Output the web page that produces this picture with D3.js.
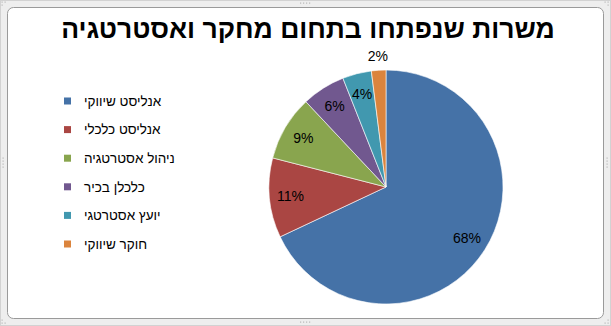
<!DOCTYPE html>
<html lang="he">
<head>
<meta charset="utf-8">
<script src="https://cdn.jsdelivr.net/npm/d3@7"></script>
<style>
  html, body { margin: 0; padding: 0; background: #fff; }
  svg { display: block; }
  text { font-family: "Liberation Sans", Arial, "DejaVu Sans", sans-serif; }
</style>
</head>
<body>
<svg id="chart" width="611" height="326"></svg>
<script>
// Chart data
const title = "משרות שנפתחו בתחום מחקר ואסטרטגיה";
const categories = ["אנליסט שיווקי", "אנליסט כלכלי", "ניהול אסטרטגיה", "כלכלן בכיר", "יועץ אסטרטגי", "חוקר שיווקי"];
const values = [68, 11, 9, 6, 4, 2];
const colors = ["#4572A7", "#AA4643", "#89A54E", "#71588F", "#4198AF", "#DB843D"];

const W = 611, H = 326;
const svg = d3.select("#chart");

// Outer frame with the chart-object border
svg.append("rect").attr("x", 0.5).attr("y", 0.5).attr("width", W - 1).attr("height", H - 1)
  .attr("fill", "#eeeeee").attr("stroke", "#d2d2d2");
svg.append("rect").attr("x", 7.5).attr("y", 7.5).attr("width", W - 15).attr("height", H - 15)
  .attr("rx", 6).attr("fill", "#ffffff").attr("stroke", "#9a9a9a");

// Resize handle dots
const handleDots = [];
[[W / 2 - 5, 3], [W / 2 - 5, H - 4]].forEach(([x, y]) => {
  for (let i = 0; i < 4; i++) handleDots.push([x + i * 3, y]);
});
[[3, H / 2 - 5], [W - 4, H / 2 - 5]].forEach(([x, y]) => {
  for (let i = 0; i < 4; i++) handleDots.push([x, y + i * 3]);
});
[[2, 2], [5, 2], [2, 5], [W - 6, 2], [W - 3, 2], [W - 3, 5],
 [2, H - 3], [5, H - 3], [2, H - 6], [W - 6, H - 3], [W - 3, H - 3], [W - 3, H - 6]]
  .forEach(p => handleDots.push(p));
svg.append("g").selectAll("rect").data(handleDots).join("rect")
  .attr("x", d => d[0] - 0.5).attr("y", d => d[1] - 0.5)
  .attr("width", 1.2).attr("height", 1.2).attr("fill", "#b8b8b8");

// Title
svg.append("text")
  .attr("x", 308).attr("y", 38)
  .attr("text-anchor", "middle")
  .attr("direction", "rtl")
  .attr("font-size", 26.5).attr("font-weight", "bold").attr("fill", "#000")
  .text(title);

// Pie
const cx = 386, cy = 187, r = 117;
const pie = d3.pie().sort(null).value(d => d)(values);
const arc = d3.arc().innerRadius(0).outerRadius(r);
const g = svg.append("g").attr("transform", `translate(${cx},${cy})`);

g.selectAll("path").data(pie).join("path")
  .attr("d", arc)
  .attr("fill", (d, i) => colors[i])
  .attr("stroke", "#ffffff").attr("stroke-width", 0.6);

// Data labels: inside near the rim, outside when the slice is too thin
const inside = d3.arc().innerRadius(r * 0.82).outerRadius(r * 0.82);
const outside = d3.arc().innerRadius(r + 14).outerRadius(r + 14);
g.selectAll("text.lbl").data(pie).join("text")
  .attr("class", "lbl")
  .attr("transform", d => `translate(${(d.data < 3 ? outside : inside).centroid(d)})`)
  .attr("text-anchor", "middle").attr("dy", "0.35em")
  .attr("font-size", 14).attr("fill", "#000")
  .text(d => d.data + "%");

// Legend
const legendY = d3.scalePoint().domain(d3.range(categories.length)).range([101, 244]);
const lg = svg.append("g");
const items = lg.selectAll("g").data(categories).join("g")
  .attr("transform", (d, i) => `translate(0,${legendY(i)})`);
items.append("rect")
  .attr("x", 64).attr("y", -3.5).attr("width", 7).attr("height", 7)
  .attr("fill", (d, i) => colors[i]);
items.append("text")
  .attr("x", 84).attr("dy", "0.35em")
  .attr("direction", "rtl").attr("text-anchor", "end")
  .attr("font-size", 13.5).attr("fill", "#000")
  .text(d => d);
</script>
</body>
</html>
